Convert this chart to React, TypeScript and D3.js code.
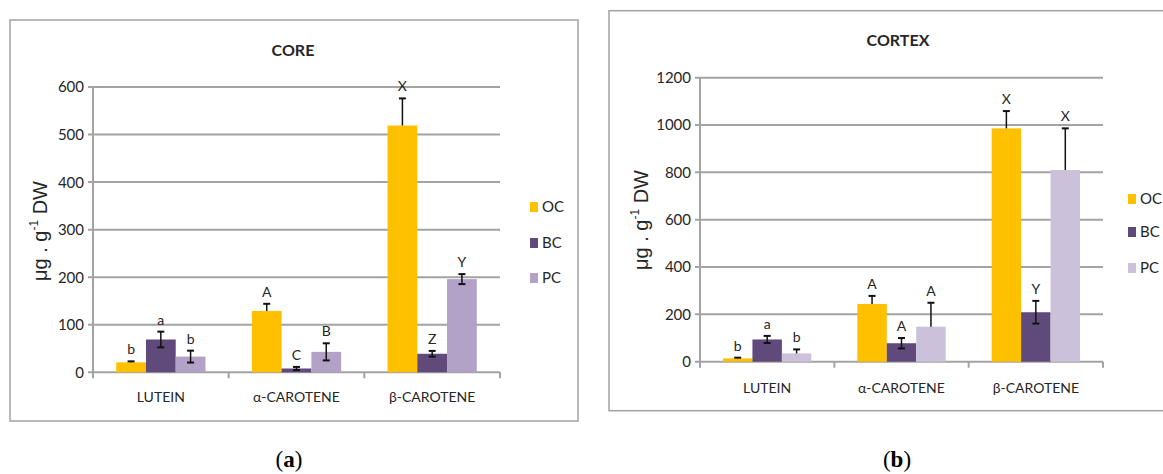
import React from "react";
import * as d3 from "d3";

// ---------- DATA ----------
const categories = ["LUTEIN", "α-CAROTENE", "β-CAROTENE"];
const seriesNames = ["OC", "BC", "PC"];

// CORE panel
const coreOC = [21, 129, 519];
const coreOCErr = [2, 15, 57];
const coreBC = [69, 8, 39];
const coreBCErr = [16.5, 3.3, 6];
const corePC = [33, 43, 196];
const corePCErr = [12.5, 18, 10.5];
const coreOCLetters = ["b", "A", "X"];
const coreBCLetters = ["a", "C", "Z"];
const corePCLetters = ["b", "B", "Y"];
const coreTicks = [0, 100, 200, 300, 400, 500, 600];

// CORTEX panel
const cortexOC = [14, 244, 986];
const cortexOCErr = [3, 34, 73];
const cortexBC = [94, 78, 209];
const cortexBCErr = [15, 22, 48];
const cortexPC = [35, 148, 810];
const cortexPCErr = [17, 101, 176];
const cortexOCLetters = ["b", "A", "X"];
const cortexBCLetters = ["a", "A", "Y"];
const cortexPCLetters = ["b", "A", "X"];
const cortexTicks = [0, 200, 400, 600, 800, 1000, 1200];

// ---------- STYLE ----------
const GRID = "#a3a3a3";
const TXT = "#262626";
const FONT = "Lato, 'Open Sans', sans-serif";

type Series = { name: string; values: number[]; errs: number[]; both: boolean; letters: string[]; color: string };

type PanelProps = {
  title: string;
  caption: string;
  series: Series[];
  ticks: number[];
  box: { x: number; y: number; w: number; h: number };
  plot: { x0: number; x1: number; yTop: number; yBottom: number };
  titleX: number;
  titleY: number;
  yLabelX: number;
  yLabelY: number;
  catLabelY: number;
  legend: { x: number; ys: number[] };
  captionX: number;
};

function Panel(p: PanelProps) {
  const maxT = p.ticks[p.ticks.length - 1];
  const y = d3.scaleLinear().domain([0, maxT]).range([p.plot.yBottom, p.plot.yTop]);
  const x0 = d3.scaleBand<string>().domain(categories).range([p.plot.x0, p.plot.x1]).paddingInner(0).paddingOuter(0);
  const x1 = d3
    .scaleBand<string>()
    .domain(seriesNames)
    .range([0, x0.bandwidth()])
    .paddingInner(0)
    .paddingOuter(0.78);
  const bw = x1.bandwidth();
  const boundaries = [p.plot.x0, ...categories.map((c) => (x0(c) as number) + x0.bandwidth())];

  return (
    <g>
      <rect x={p.box.x} y={p.box.y} width={p.box.w} height={p.box.h} fill="#fff" stroke={GRID} strokeWidth={1.5} />
      <text x={p.titleX} y={p.titleY} textAnchor="middle" fontFamily={FONT} fontWeight="bold" fontSize={16} fill={TXT}>
        {p.title}
      </text>
      {/* gridlines and y ticks */}
      {p.ticks.map((t) => (
        <g key={t}>
          <line x1={p.plot.x0 - 5} x2={p.plot.x1} y1={y(t)} y2={y(t)} stroke={GRID} strokeWidth={2} />
          <text
            x={p.plot.x0 - 9}
            y={y(t)}
            dy="0.36em"
            textAnchor="end"
            fontFamily={FONT}
            fontSize={15}
            fill={TXT}
          >
            {t}
          </text>
        </g>
      ))}
      {/* y axis line */}
      <line x1={p.plot.x0} x2={p.plot.x0} y1={p.plot.yTop} y2={p.plot.yBottom} stroke={GRID} strokeWidth={2} />
      {/* x tick marks */}
      {boundaries.map((b, i) => (
        <line key={i} x1={b} x2={b} y1={p.plot.yBottom} y2={p.plot.yBottom + 6} stroke={GRID} strokeWidth={2} />
      ))}
      {/* bars */}
      {p.series.map((s) =>
        s.values.map((v, i) => (
          <rect
            key={s.name + i}
            x={(x0(categories[i]) as number) + (x1(s.name) as number)}
            y={y(v)}
            width={bw}
            height={y(0) - y(v)}
            fill={s.color}
          />
        ))
      )}
      {/* error bars and letters */}
      {p.series.map((s) =>
        s.values.map((v, i) => {
          const cx = (x0(categories[i]) as number) + (x1(s.name) as number) + bw / 2;
          const top = y(v + s.errs[i]);
          const bottom = s.both ? y(Math.max(0, v - s.errs[i])) : y(v);
          return (
            <g key={"e" + s.name + i}>
              <line x1={cx} x2={cx} y1={top} y2={bottom} stroke="#111" strokeWidth={1.5} />
              <line x1={cx - 3.5} x2={cx + 3.5} y1={top} y2={top} stroke="#111" strokeWidth={2} />
              {s.both && <line x1={cx - 3.5} x2={cx + 3.5} y1={bottom} y2={bottom} stroke="#111" strokeWidth={2} />}
              <text x={cx} y={top - 7} textAnchor="middle" fontFamily={FONT} fontSize={14} fill={TXT}>
                {s.letters[i]}
              </text>
            </g>
          );
        })
      )}
      {/* category labels */}
      {categories.map((c) => (
        <text
          key={c}
          x={(x0(c) as number) + x0.bandwidth() / 2}
          y={p.catLabelY}
          textAnchor="middle"
          fontFamily={FONT}
          fontSize={14}
          fill={TXT}
        >
          {c}
        </text>
      ))}
      {/* y axis title */}
      <text
        transform={`translate(${p.yLabelX},${p.yLabelY}) rotate(-90)`}
        textAnchor="middle"
        fontFamily="'Liberation Sans', Arial, sans-serif"
        fontSize={20}
        fill={TXT}
      >
        μg . g
        <tspan fontSize={12} dy={-9}>
          -1
        </tspan>
        <tspan dy={9}> DW</tspan>
      </text>
      {/* legend */}
      {p.series.map((s, i) => (
        <g key={"l" + s.name}>
          <rect x={p.legend.x} y={p.legend.ys[i] - 5} width={8} height={10} fill={s.color} />
          <text x={p.legend.x + 12} y={p.legend.ys[i]} dy="0.36em" fontFamily={FONT} fontSize={15} fill={TXT}>
            {s.name}
          </text>
        </g>
      ))}
      {/* caption */}
      <text x={p.captionX} y={467} textAnchor="middle" fontFamily="'Liberation Serif', 'DejaVu Serif', serif" fontSize={23} fill="#000">
        (<tspan fontWeight="bold">{p.caption}</tspan>)
      </text>
    </g>
  );
}

export default function App() {
  const coreSeries: Series[] = [
    { name: "OC", values: coreOC, errs: coreOCErr, both: false, letters: coreOCLetters, color: "#ffc000" },
    { name: "BC", values: coreBC, errs: coreBCErr, both: true, letters: coreBCLetters, color: "#604a7b" },
    { name: "PC", values: corePC, errs: corePCErr, both: true, letters: corePCLetters, color: "#b3a2c7" },
  ];
  const cortexSeries: Series[] = [
    { name: "OC", values: cortexOC, errs: cortexOCErr, both: false, letters: cortexOCLetters, color: "#ffc000" },
    { name: "BC", values: cortexBC, errs: cortexBCErr, both: true, letters: cortexBCLetters, color: "#604a7b" },
    { name: "PC", values: cortexPC, errs: cortexPCErr, both: false, letters: cortexPCLetters, color: "#ccc1da" },
  ];
  return (
    <svg width={1163} height={474} style={{ position: "absolute", left: 0, top: 0, background: "#fff" }}>
      <rect width={1163} height={474} fill="#fff" />
      <Panel
        title="CORE"
        caption="a"
        series={coreSeries}
        ticks={coreTicks}
        box={{ x: 10, y: 20, w: 568, h: 401 }}
        plot={{ x0: 93, x1: 500, yTop: 87, yBottom: 372.3 }}
        titleX={293}
        titleY={56}
        yLabelX={47}
        yLabelY={231}
        catLabelY={402}
        legend={{ x: 530, ys: [207, 243, 278] }}
        captionX={289}
      />
      <Panel
        title="CORTEX"
        caption="b"
        series={cortexSeries}
        ticks={cortexTicks}
        box={{ x: 609, y: 10.7, w: 600, h: 400 }}
        plot={{ x0: 700, x1: 1103, yTop: 77.7, yBottom: 361.7 }}
        titleX={898}
        titleY={46}
        yLabelX={648}
        yLabelY={220}
        catLabelY={393}
        legend={{ x: 1128, ys: [199, 232, 268] }}
        captionX={897}
      />
    </svg>
  );
}
